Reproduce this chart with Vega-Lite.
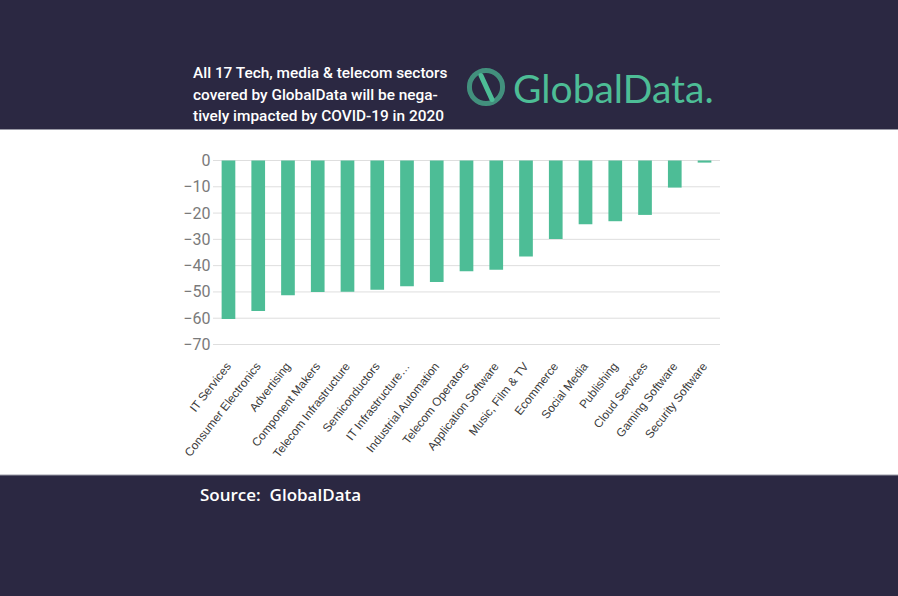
{
  "$schema": "https://vega.github.io/schema/vega-lite/v6.json",
  "width": 507,
  "height": 184,
  "autosize": {"type": "none"},
  "padding": {"left": 213, "top": 160.5, "right": 178, "bottom": 251.5},
  "background": "#2b2842",
  "config": {"view": {"stroke": null}},
  "datasets": {
    "sectors": [
      {"sector": "IT Services", "change": -60.3},
      {"sector": "Consumer Electronics", "change": -57.3},
      {"sector": "Advertising", "change": -51.3},
      {"sector": "Component Makers", "change": -50.0},
      {"sector": "Telecom Infrastructure", "change": -49.9},
      {"sector": "Semiconductors", "change": -49.2},
      {"sector": "IT Infrastructure…", "change": -47.8},
      {"sector": "Industrial Automation", "change": -46.2},
      {"sector": "Telecom Operators", "change": -42.1},
      {"sector": "Application Software", "change": -41.6},
      {"sector": "Music, Film & TV", "change": -36.5},
      {"sector": "Ecommerce", "change": -29.9},
      {"sector": "Social Media", "change": -24.3},
      {"sector": "Publishing", "change": -23.1},
      {"sector": "Cloud Services", "change": -20.7},
      {"sector": "Gaming Software", "change": -10.3},
      {"sector": "Security Software", "change": -0.8}
    ],
    "grid": [
      {"change": 0}, {"change": -10}, {"change": -20}, {"change": -30}, {"change": -40}, {"change": -50}, {"change": -60}, {"change": -70}
    ],
    "notes": [
      {"header": "All 17 Tech, media & telecom sectors\ncovered by GlobalData will be nega-\ntively impacted by COVID-19 in 2020", "logo": "GlobalData.", "source": "Source:\u00a0 GlobalData"}
    ]
  },
  "layer": [
    {
      "data": {"name": "notes"},
      "mark": {"type": "rect", "fill": "white", "stroke": "#9a9aa6", "strokeWidth": 1, "clip": false},
      "encoding": {
        "x": {"value": -214},
        "x2": {"value": 686},
        "y": {"value": -31},
        "y2": {"value": 314.5}
      }
    },
    {
      "data": {"name": "grid"},
      "mark": {"type": "rule", "color": "#dedede", "strokeWidth": 1},
      "encoding": {
        "y": {
          "field": "change",
          "type": "quantitative",
          "scale": {"domain": [-70, 0], "nice": false},
          "axis": {
            "title": null,
            "zindex": 1,
            "grid": false,
            "domain": false,
            "ticks": false,
            "values": [0, -10, -20, -30, -40, -50, -60, -70],
            "labelFont": "Roboto",
            "labelFontSize": 16,
            "labelColor": "#7a7a7a",
            "labelPadding": 3
          }
        }
      }
    },
    {
      "data": {"name": "sectors"},
      "mark": {"type": "bar", "color": "#4dbd96"},
      "encoding": {
        "x": {
          "field": "sector",
          "type": "nominal",
          "sort": null,
          "scale": {"paddingInner": 0.54, "paddingOuter": 0.29},
          "axis": {
            "title": null,
            "zindex": 1,
            "domain": false,
            "ticks": false,
            "labelAngle": -52,
            "labelPadding": 19,
            "labelFont": "Liberation Sans",
            "labelFontSize": 11.8,
            "labelColor": "#3a3a3a",
            "labelOverlap": false,
            "labelLimit": 200
          }
        },
        "y": {
          "field": "change",
          "type": "quantitative",
          "scale": {"domain": [-70, 0], "nice": false},
          "axis": {
            "title": null,
            "zindex": 1,
            "grid": false,
            "domain": false,
            "ticks": false,
            "values": [0, -10, -20, -30, -40, -50, -60, -70],
            "labelFont": "Roboto",
            "labelFontSize": 16,
            "labelColor": "#7a7a7a",
            "labelPadding": 3
          }
        }
      }
    },
    {
      "data": {"name": "notes"},
      "mark": {"type": "text", "align": "left", "baseline": "alphabetic", "color": "white", "font": "Roboto", "fontSize": 15.4, "fontWeight": 500, "lineBreak": "\n", "lineHeight": 21.5, "clip": false},
      "encoding": {
        "x": {"value": -20},
        "y": {"value": -82.5},
        "text": {"field": "header"}
      }
    },
    {
      "data": {"name": "notes"},
      "mark": {"type": "text", "align": "left", "baseline": "alphabetic", "color": "#4dbd96", "font": "Lato", "fontSize": 39, "clip": false},
      "encoding": {
        "x": {"value": 300},
        "y": {"value": -58},
        "text": {"field": "logo"}
      }
    },
    {
      "data": {"name": "notes"},
      "mark": {"type": "point", "shape": "circle", "filled": false, "stroke": "#4dbd96", "strokeWidth": 5, "size": 1100, "clip": false},
      "encoding": {
        "x": {"value": 273},
        "y": {"value": -73.5}
      }
    },
    {
      "data": {"name": "notes"},
      "mark": {"type": "rule", "stroke": "#4dbd96", "strokeWidth": 5, "strokeCap": "round", "clip": false},
      "encoding": {
        "x": {"value": 268},
        "y": {"value": -85},
        "x2": {"value": 279},
        "y2": {"value": -61}
      }
    },
    {
      "data": {"name": "notes"},
      "mark": {"type": "text", "align": "left", "baseline": "alphabetic", "color": "white", "font": "Open Sans", "fontSize": 17, "fontWeight": 600, "clip": false},
      "encoding": {
        "x": {"value": -13},
        "y": {"value": 340.5},
        "text": {"field": "source"}
      }
    }
  ]
}
